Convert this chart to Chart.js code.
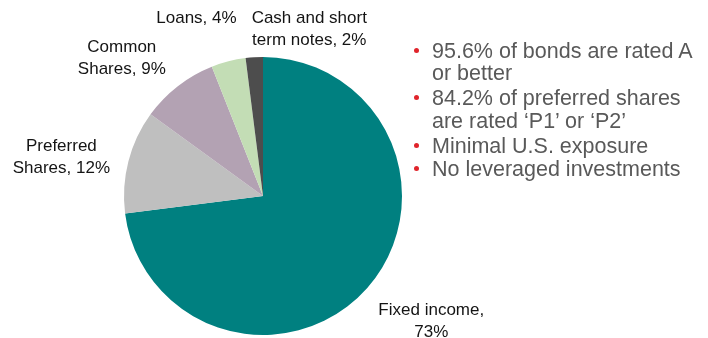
<!DOCTYPE html>
<html>
<head>
<meta charset="utf-8">
<script src="https://cdn.jsdelivr.net/npm/chart.js@4/dist/chart.umd.min.js"></script>
<style>
  html, body { margin: 0; padding: 0; background: #fff; }
  #wrap { position: relative; width: 708px; height: 338px; overflow: hidden; }
  #c { position: absolute; left: 0; top: 0; }
  .line { position: absolute; left: 432px; font-family: "Liberation Sans", Arial, sans-serif; font-size: 21.5px; line-height: 24px; color: #595959; white-space: nowrap; }
  .dot { position: absolute; width: 5px; height: 5px; border-radius: 50%; background: #E0242B; }
</style>
</head>
<body>
<div id="wrap">
  <canvas id="c" width="708" height="338"></canvas>
</div>
<script>
// ---- data ----
const categories = ["Fixed income", "Preferred Shares", "Common Shares", "Loans", "Cash and short term notes"];
const shares = [73, 12, 9, 4, 2];
const labelLines = [
  ["Fixed income,", "73%"],
  ["Preferred", "Shares, 12%"],
  ["Common", "Shares, 9%"],
  ["Loans, 4%"],
  ["Cash and short", "term notes, 2%"]
];
const bulletPoints = [
  ["95.6% of bonds are rated A", "or better"],
  ["84.2% of preferred shares", "are rated \u2018P1\u2019 or \u2018P2\u2019"],
  ["Minimal U.S. exposure"],
  ["No leveraged investments"]
];

// ---- styling ----
const sliceColors = ["#008080", "#BFBFBF", "#B3A2B3", "#C3DDB5", "#4D4D4D"];
// label offsets from the outer mid-point of each slice (px)
const labelOffsets = [[64, 33], [-67, -4], [-56, -28], [-32, -43], [55, -28]];

// bullet list (HTML text)
const wrap = document.getElementById('wrap');
const lineYs = [[50.5, 72.5], [97.5, 120.7], [145.7], [169]];
bulletPoints.forEach((pt, i) => {
  const d = document.createElement('div');
  d.className = 'dot';
  d.style.left = '414px';
  d.style.top = (lineYs[i][0] - 3) + 'px';
  wrap.appendChild(d);
  pt.forEach((txt, j) => {
    const l = document.createElement('div');
    l.className = 'line';
    l.style.top = (lineYs[i][j] - 12) + 'px';
    l.textContent = txt;
    wrap.appendChild(l);
  });
});

const labelPlugin = {
  id: 'sliceLabels',
  afterDatasetsDraw(chart) {
    const ctx = chart.ctx;
    const meta = chart.getDatasetMeta(0);
    ctx.save();
    ctx.font = '17px "Liberation Sans", Arial, sans-serif';
    ctx.fillStyle = '#141414';
    ctx.textAlign = 'center';
    ctx.textBaseline = 'middle';
    meta.data.forEach((arc, i) => {
      const p = arc.getProps(['x', 'y', 'startAngle', 'endAngle', 'outerRadius'], true);
      const mid = (p.startAngle + p.endAngle) / 2;
      const bx = p.x + Math.cos(mid) * p.outerRadius + labelOffsets[i][0];
      const by = p.y + Math.sin(mid) * p.outerRadius + labelOffsets[i][1];
      const lines = labelLines[i];
      const lh = 22;
      const y0 = by - (lines.length - 1) * lh / 2;
      lines.forEach((t, j) => ctx.fillText(t, bx, y0 + j * lh));
    });
    ctx.restore();
  }
};

new Chart(document.getElementById('c'), {
  type: 'pie',
  data: {
    labels: categories,
    datasets: [{
      data: shares,
      backgroundColor: sliceColors,
      borderWidth: 0
    }]
  },
  options: {
    responsive: false,
    animation: false,
    layout: { padding: { left: 124, right: 306, top: 57, bottom: 3 } },
    plugins: { legend: { display: false }, tooltip: { enabled: false } }
  },
  plugins: [labelPlugin]
});
</script>
</body>
</html>
